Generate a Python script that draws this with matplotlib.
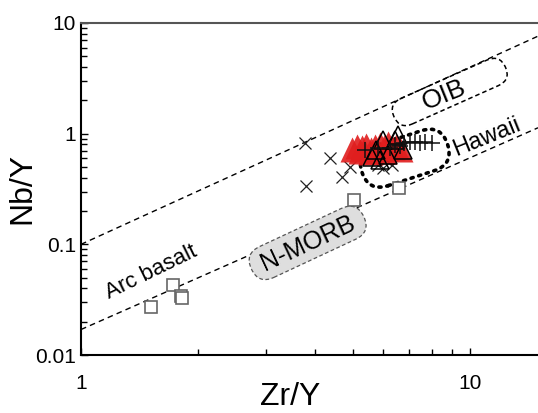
import matplotlib
matplotlib.use("Agg")
import matplotlib.pyplot as plt
import matplotlib.transforms as mtransforms
from matplotlib.patches import FancyBboxPatch
from matplotlib.ticker import LogLocator, NullFormatter, FixedLocator, FixedFormatter

plt.rcParams['font.family'] = ['Liberation Sans', 'DejaVu Sans']

# --- data ---
# N-MORB-like samples (open squares)
sq_x = [1.51, 1.72, 1.81, 1.82, 5.03, 6.57]
sq_y = [0.027, 0.043, 0.034, 0.033, 0.252, 0.323]

# crosses
x_x = [3.77, 4.37, 4.69, 3.79, 4.91, 5.80, 6.09, 6.30, 5.97]
x_y = [0.82, 0.60, 0.41, 0.34, 0.50, 0.52, 0.58, 0.52, 0.49]

# filled red triangles
rt_x = [4.97, 5.12, 5.28, 5.40, 5.57, 5.70, 5.87, 6.01, 6.15, 6.30, 6.45, 6.61, 5.21, 5.53, 6.04]
rt_y = [0.73, 0.78, 0.75, 0.79, 0.73, 0.78, 0.81, 0.76, 0.83, 0.75, 0.78, 0.73, 0.69, 0.68, 0.69]

# open triangles
ot_x = [5.73, 5.97, 6.42, 6.15, 5.60, 6.53, 6.73, 5.87]
ot_y = [0.71, 0.88, 0.88, 0.64, 0.62, 0.97, 0.71, 0.58]

# plus signs
pl_x = [5.37, 5.80, 6.42, 6.80, 7.01, 7.22, 7.44, 7.66, 7.99, 6.61, 6.23]
pl_y = [0.71, 0.74, 0.79, 0.83, 0.84, 0.84, 0.83, 0.84, 0.83, 0.77, 0.74]

# boundary lines (Zr/Y, Nb/Y end points)
upper_x = [1, 15]
upper_y = [0.10, 7.6]
lower_x = [1, 15]
lower_y = [0.017, 1.13]

fig = plt.figure(figsize=(5.38, 4.13), dpi=100)
ax = fig.add_axes([0.1506, 0.1404, 0.8494, 0.804])
ax.set_xscale('log')
ax.set_yscale('log')
ax.set_xlim(1, 15)
ax.set_ylim(0.01, 10)

dash = (0, (4, 3))
ax.plot(upper_x, upper_y, color='k', lw=1, ls=dash, zorder=1)
ax.plot(lower_x, lower_y, color='k', lw=1, ls=dash, zorder=1)


def pill(cx, cy, w, h, ang, **kw):
    # rounded box of w x h inches, centred at a data point, rotated by ang
    tr = (mtransforms.Affine2D().rotate_deg(ang) + fig.dpi_scale_trans
          + mtransforms.ScaledTranslation(cx, cy, ax.transData))
    p = FancyBboxPatch((-w / 2, -h / 2), w, h,
                       boxstyle='round,pad=0,rounding_size=%f' % (h / 2),
                       transform=tr, **kw)
    ax.add_patch(p)


# N-MORB field
pill(3.83, 0.103, 1.24, 0.34, 25, fc='#dedede', ec='#555555', lw=0.9, ls=(0, (3, 2)), zorder=2)
ax.text(3.83, 0.103, 'N-MORB', rotation=25, ha='center', va='center',
        rotation_mode='anchor', fontsize=18, zorder=3)

# OIB field
pill(8.89, 2.38, 1.22, 0.28, 24, fc='none', ec='k', lw=1.1, ls=(0, (3, 2)), zorder=2)
ax.text(8.61, 2.24, 'OIB', rotation=22, ha='center', va='center',
        rotation_mode='anchor', fontsize=19, zorder=3)

# Hawaii field
pill(6.81, 0.60, 0.90, 0.42, 18, fc='none', ec='k', lw=2.6, ls=(0, (0.6, 1.6)),
     capstyle='round', zorder=2)
ax.text(11.1, 0.93, 'Hawaii', rotation=22, ha='center', va='center',
        rotation_mode='anchor', fontsize=17)

ax.text(1.52, 0.0564, 'Arc basalt', rotation=26, ha='center', va='center',
        rotation_mode='anchor', fontsize=16)

# samples
ax.plot(sq_x, sq_y, ls='none', marker='s', ms=9, mfc='white', mec='#666666', mew=1.2, zorder=4)
ax.plot(x_x, x_y, ls='none', marker='x', ms=8, mec='#222222', mew=0.9, zorder=4)
ax.plot(rt_x, rt_y, ls='none', marker='^', ms=18, mfc='#e01e1e', mec='none', alpha=0.9, zorder=5)
ax.plot(ot_x, ot_y, ls='none', marker='^', ms=13, mfc='none', mec='k', mew=1.1, zorder=6)
ax.plot(pl_x, pl_y, ls='none', marker='+', ms=11, mec='#111111', mew=1.1, zorder=6)

# axes styling
for s in ['left', 'bottom']:
    ax.spines[s].set_linewidth(1.5)
ax.spines['top'].set_color('#555555')
ax.spines['top'].set_linewidth(1.5)
ax.spines['right'].set_visible(False)

ax.xaxis.set_major_locator(FixedLocator([1, 10]))
ax.xaxis.set_major_formatter(FixedFormatter(['1', '10']))
ax.xaxis.set_minor_locator(LogLocator(base=10, subs=range(2, 10)))
ax.xaxis.set_minor_formatter(NullFormatter())
ax.yaxis.set_major_locator(FixedLocator([0.01, 0.1, 1, 10]))
ax.yaxis.set_major_formatter(FixedFormatter(['0.01', '0.1', '1', '10']))
ax.yaxis.set_minor_locator(LogLocator(base=10, subs=range(2, 10)))
ax.yaxis.set_minor_formatter(NullFormatter())

ax.tick_params(which='both', direction='in', top=False, right=False, labelsize=15, width=1)
ax.tick_params(which='major', length=5)
ax.tick_params(which='minor', length=4)
ax.tick_params(axis='x', which='major', length=5, pad=14)

ax.set_xlabel('Zr/Y', fontsize=23)
ax.set_ylabel('Nb/Y', fontsize=23)
ax.xaxis.set_label_coords(0.457, -0.08)
ax.yaxis.set_label_coords(-0.096, 0.5)

fig.savefig('out.png', dpi=100)
